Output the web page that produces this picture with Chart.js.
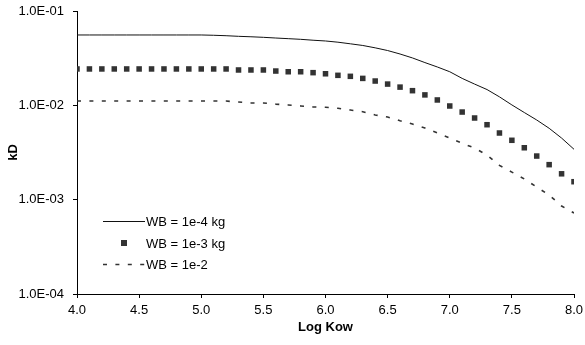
<!DOCTYPE html>
<html>
<head>
<meta charset="utf-8">
<script src="https://cdn.jsdelivr.net/npm/chart.js@4.4.1/dist/chart.umd.min.js"></script>
<style>
    body { margin: 0; background: #fff; }
    #wrap { width: 585px; height: 345px; }
</style>
</head>
<body>
<div id="wrap"><canvas id="kd-chart" width="585" height="345"></canvas></div>
<script>
const logKow = [4.0, 4.1, 4.2, 4.3, 4.4, 4.5, 4.6, 4.7, 4.8, 4.9,
                5.0, 5.1, 5.2, 5.3, 5.4, 5.5, 5.6, 5.7, 5.8, 5.9,
                6.0, 6.1, 6.2, 6.3, 6.4, 6.5, 6.6, 6.7, 6.8, 6.9,
                7.0, 7.1, 7.2, 7.3, 7.4, 7.5, 7.6, 7.7, 7.8, 7.9, 8.0];

const kdWB4 = [0.0557, 0.0557, 0.0557, 0.0557, 0.0557, 0.0557, 0.0557, 0.0557, 0.0557, 0.0557,
               0.0557, 0.0553, 0.0547, 0.0539, 0.0533, 0.0526, 0.0517, 0.0509, 0.0501, 0.0490,
               0.0481, 0.0467, 0.0449, 0.0431, 0.0407, 0.0381, 0.0350, 0.0318, 0.0284, 0.0255,
               0.0227, 0.0193, 0.0168, 0.0147, 0.0123, 0.0101, 0.00839, 0.00699, 0.00571, 0.00450, 0.00342];

const kdWB3 = [0.0243, 0.0243, 0.0243, 0.0243, 0.0243, 0.0243, 0.0243, 0.0243, 0.0243, 0.0243,
               0.0243, 0.0243, 0.0243, 0.0237, 0.0237, 0.0237, 0.0231, 0.0227, 0.0227, 0.0222,
               0.0216, 0.0208, 0.0203, 0.0193, 0.0181, 0.0168, 0.0156, 0.0143, 0.0129, 0.0114,
               0.00984, 0.00849, 0.00734, 0.00623, 0.00509, 0.00426, 0.00355, 0.00290, 0.00235, 0.00188, 0.00155];

const kdWB2 = [0.0111, 0.0111, 0.0111, 0.0111, 0.0111, 0.0111, 0.0111, 0.0111, 0.0111, 0.0111,
               0.0111, 0.0111, 0.0111, 0.01085, 0.0106, 0.01059, 0.0103, 0.0101, 0.00985, 0.00961,
               0.00953, 0.00930, 0.00892, 0.00856, 0.00790, 0.00752, 0.00687, 0.00634, 0.00575, 0.00509,
               0.00450, 0.00396, 0.00353, 0.00297, 0.00231, 0.00196, 0.00166, 0.00136, 0.00112, 0.000857, 0.000722];

const seriesLabels = ['WB = 1e-4 kg', 'WB = 1e-3 kg', 'WB = 1e-2'];
const xTickValues = [4.0, 4.5, 5.0, 5.5, 6.0, 6.5, 7.0, 7.5, 8.0];
const yTickValues = [0.0001, 0.001, 0.01, 0.1];

const FONT = '"Liberation Sans", Arial, sans-serif';

function toPoints(ys) {
    return logKow.map((x, i) => ({ x: x, y: ys[i] }));
}

function sciLabel(v) {
    const exp = Math.round(Math.log10(v));
    const sign = exp < 0 ? '-' : '+';
    const mag = String(Math.abs(exp)).padStart(2, '0');
    return '1.0E' + sign + mag;
}

// legend drawn inside the plot, lower left, like the original
const insideLegend = {
    id: 'insideLegend',
    afterDatasetsDraw(chart) {
        const ctx = chart.ctx;
        const area = chart.chartArea;
        const x0 = area.left + 26;
        const lineLen = 42;
        const rows = [221, 243, 264];
        ctx.save();
        ctx.font = '13px ' + FONT;
        ctx.textBaseline = 'middle';
        ctx.fillStyle = '#000';
        chart.data.datasets.forEach((ds, i) => {
            const y = rows[i];
            if (ds.showLine !== false) {
                ctx.strokeStyle = ds.borderColor;
                ctx.lineWidth = ds.borderWidth;
                ctx.setLineDash(ds.borderDash || []);
                ctx.beginPath();
                ctx.moveTo(x0, y + 0.5);
                ctx.lineTo(x0 + lineLen, y + 0.5);
                ctx.stroke();
                ctx.setLineDash([]);
            } else {
                ctx.fillStyle = ds.pointBackgroundColor;
                ctx.fillRect(x0 + lineLen / 2 - 3, y - 3, 6, 6);
                ctx.fillStyle = '#000';
            }
            ctx.fillText(ds.label, x0 + lineLen + 1, y + 1);
        });
        ctx.restore();
    }
};

const ctx = document.getElementById('kd-chart').getContext('2d');

new Chart(ctx, {
    type: 'scatter',
    data: {
        datasets: [
            {
                label: seriesLabels[0],
                data: toPoints(kdWB4),
                showLine: true,
                borderColor: '#111',
                borderWidth: 1,
                pointRadius: 0,
                tension: 0
            },
            {
                label: seriesLabels[1],
                data: toPoints(kdWB3),
                showLine: false,
                pointStyle: 'rect',
                pointRadius: 3.9,
                pointBackgroundColor: '#333',
                pointBorderColor: '#333',
                pointBorderWidth: 0
            },
            {
                label: seriesLabels[2],
                data: toPoints(kdWB2),
                showLine: true,
                borderColor: '#333',
                borderWidth: 1.6,
                borderDash: [4, 8.4],
                pointRadius: 0,
                tension: 0
            }
        ]
    },
    options: {
        responsive: false,
        animation: false,
        layout: {
            padding: { left: 0, right: 11, top: 11, bottom: 0 }
        },
        plugins: {
            legend: { display: false },
            tooltip: { enabled: false }
        },
        scales: {
            x: {
                type: 'linear',
                min: 4,
                max: 8,
                afterBuildTicks: (scale) => {
                    scale.ticks = xTickValues.map(v => ({ value: v }));
                },
                afterFit: (scale) => {
                    scale.height = 51;
                    scale.paddingLeft = 0;
                    scale.paddingRight = 0;
                },
                grid: {
                    drawOnChartArea: false,
                    drawTicks: true,
                    tickLength: 4,
                    color: '#000'
                },
                border: { color: '#000', width: 1 },
                ticks: {
                    color: '#000',
                    padding: 5,
                    maxRotation: 0,
                    autoSkip: false,
                    font: { family: FONT, size: 13 },
                    callback: (v) => Number(v).toFixed(1)
                },
                title: {
                    display: true,
                    text: 'Log Kow',
                    color: '#000',
                    font: { family: FONT, size: 13, weight: 'bold' },
                    padding: { top: 0, bottom: 10 }
                }
            },
            y: {
                type: 'logarithmic',
                min: 0.0001,
                max: 0.1,
                afterBuildTicks: (scale) => {
                    scale.ticks = yTickValues.map(v => ({ value: v, major: true }));
                },
                afterFit: (scale) => {
                    scale.width = 77;
                    scale.paddingTop = 0;
                    scale.paddingBottom = 0;
                },
                grid: {
                    drawOnChartArea: false,
                    drawTicks: true,
                    tickLength: 4,
                    color: '#000'
                },
                border: { color: '#000', width: 1 },
                ticks: {
                    color: '#000',
                    padding: 9,
                    autoSkip: false,
                    font: { family: FONT, size: 13 },
                    callback: (v) => sciLabel(v)
                },
                title: {
                    display: true,
                    text: 'kD',
                    color: '#000',
                    font: { family: FONT, size: 13, weight: 'bold' },
                    padding: { top: 6, bottom: 0 }
                }
            }
        }
    },
    plugins: [insideLegend]
});
</script>
</body>
</html>
